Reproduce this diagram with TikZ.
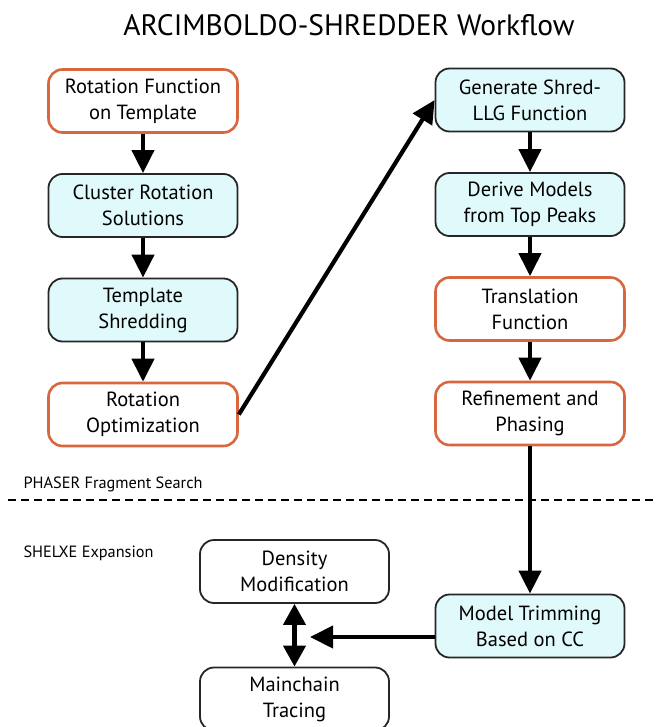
\documentclass[tikz,border=0pt]{standalone}
\usepackage{fontspec}
\setmainfont{PT Sans}
\usetikzlibrary{positioning, arrows.meta}
\definecolor{shredorange}{RGB}{216,102,62}
\definecolor{shredcyan}{RGB}{224,250,252}

\begin{document}
\begin{tikzpicture}[x=1pt,y=-1pt,node distance=104.5pt,on grid,
    box/.style={rectangle, rounded corners=14pt, minimum width=189pt, minimum height=63pt,
      align=center, font=\fontsize{20.5}{26}\selectfont, line width=1.8pt},
    rotbox/.style={box, draw=shredorange, line width=2.6pt, fill=white},
    shredbox/.style={box, draw=black!85, fill=shredcyan},
    plainbox/.style={box, draw=black!85, fill=white},
    flow/.style={line width=4.2pt, -{Triangle[length=23pt,width=22pt]}},
    twoway/.style={line width=4.2pt, {Triangle[length=21pt,width=22pt]}-{Triangle[length=21pt,width=22pt]}}]
    \useasboundingbox (0,0) rectangle (655,727);
    \node (title) at (349,25) {\fontsize{29.5}{34}\selectfont ARCIMBOLDO-SHREDDER Workflow};
    % PHASER stage, left column
    \node[rotbox] (rotfun) at (143,101) {Rotation Function\\on Template};
    \node[shredbox] (cluster) [below=of rotfun] {Cluster Rotation\\Solutions};
    \node[shredbox] (shred) [below=of cluster] {Template\\Shredding};
    \node[rotbox] (rotopt) [below=of shred] {Rotation\\Optimization};
    % right column
    \node[shredbox] (llg) at (530,100) {Generate Shred-\\LLG Function};
    \node[shredbox] (derive) [below=of llg] {Derive Models\\from Top Peaks};
    \node[rotbox] (trans) [below=of derive] {Translation\\Function};
    \node[rotbox] (refine) [below=of trans] {Refinement and\\Phasing};
    % SHELXE stage
    \node[shredbox] (trim) at (530,626) {Model Trimming\\Based on CC};
    \node[plainbox] (dens) at (294.5,571.5) {Density\\Modification};
    \node[plainbox] (chain) at (294.5,699) {Mainchain\\Tracing};
    \node[anchor=base west, font=\fontsize{16.3}{20}\selectfont] (phaser) at (20,488) {PHASER Fragment Search};
    \node[anchor=base west, font=\fontsize{16.3}{20}\selectfont] (shelxe) at (20,557) {SHELXE Expansion};
    \draw[line width=1.8pt, dash pattern=on 8pt off 5pt] (8,500) -- (655,500);
    \coordinate (meet) at (310,637);
    \draw[flow] (rotfun) -- (cluster);
    \draw[flow] (cluster) -- (shred);
    \draw[flow] (shred) -- (rotopt);
    \draw[flow] (rotopt.east) -- (llg.west);
    \draw[flow] (llg) -- (derive);
    \draw[flow] (derive) -- (trans);
    \draw[flow] (trans) -- (refine);
    \draw[flow] (refine) -- (trim);
    \draw[flow] (trim.west |- meet) -- (meet);
    \draw[twoway] (dens) -- (chain);
\end{tikzpicture}
\end{document}
